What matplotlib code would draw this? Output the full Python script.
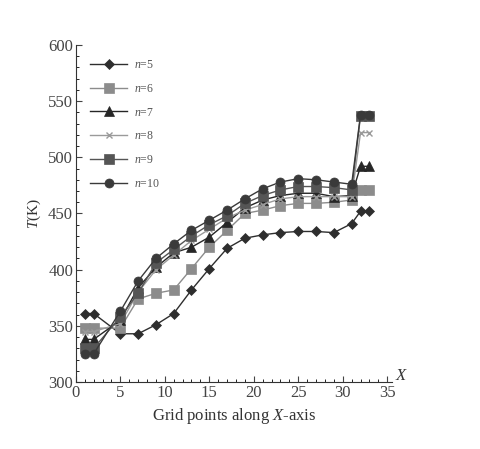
import matplotlib.pyplot as plt
import numpy as np

### grid points and temperature for every n

x = [1, 2, 5, 7, 9, 11, 13, 15, 17, 19, 21, 23, 25, 27, 29, 31, 32, 33]

t5 = [361, 361, 343, 343, 351, 361, 382, 401, 419, 428, 431, 433, 434, 434, 433, 441, 452, 452]
t6 = [348, 348, 348, 374, 379, 382, 401, 420, 435, 450, 453, 457, 459, 459, 460, 462, 471, 471]
t7 = [338, 338, 355, 384, 402, 415, 420, 429, 442, 455, 462, 466, 468, 468, 465, 466, 492, 492]
t8 = [345, 345, 352, 380, 400, 413, 426, 436, 446, 453, 458, 463, 465, 465, 465, 465, 522, 522]
t9 = [330, 330, 358, 379, 406, 418, 430, 440, 448, 459, 466, 471, 474, 474, 473, 471, 537, 537]
t10 = [325, 325, 363, 390, 410, 423, 435, 444, 453, 463, 472, 478, 481, 480, 478, 476, 538, 538]

labels = ['5', '6', '7', '8', '9', '10']
series = [t5, t6, t7, t8, t9, t10]
markers = ['D', 's', '^', 'x', 's', 'o']
colors = ['#2e2e2e', '#8c8c8c', '#262626', '#9a9a9a', '#555555', '#3a3a3a']
sizes = [5, 6.5, 6.5, 5, 6.5, 6.5]

plt.rcParams['font.family'] = ['Liberation Serif', 'DejaVu Serif']
plt.rcParams['mathtext.fontset'] = 'custom'
plt.rcParams['mathtext.rm'] = 'Liberation Serif'
plt.rcParams['mathtext.it'] = 'Liberation Serif:italic'

fig = plt.figure(figsize=(4.8, 4.49), dpi=100)
ax = fig.add_axes([0.158, 0.149, 0.658, 0.751])

for t, lab, m, c, s in zip(series, labels, markers, colors, sizes):
    ax.plot(x, t, color=c, marker=m, markersize=s, linewidth=1.0,
            markeredgewidth=1.0 if m == 'x' else 0.5, markeredgecolor=c,
            label='$n$=' + lab)

ax.set_xlim(0, 35.5)
ax.set_ylim(300, 600)
ax.set_xticks(np.arange(0, 36, 5))
ax.set_yticks(np.arange(300, 601, 50))
ax.set_xticks(np.arange(0, 36, 1), minor=True)
ax.set_yticks(np.arange(300, 601, 10), minor=True)
ax.tick_params(direction='in', labelsize=12, colors='#444444', length=4, pad=2)
ax.tick_params(which='minor', direction='in', length=2)
for side in ['top', 'right']:
    ax.spines[side].set_visible(False)
for side in ['left', 'bottom']:
    ax.spines[side].set_color('#333333')

ax.set_ylabel('$T$(K)', fontsize=11, color='#333333', labelpad=4)
ax.set_xlabel('Grid points along $X$-axis', fontsize=12, color='#333333', labelpad=4)
ax.text(1.01, 0.005, '$X$', transform=ax.transAxes, fontsize=12, color='#333333')

ax.legend(loc='upper left', bbox_to_anchor=(0.01, 0.99), frameon=False,
          fontsize=8.5, handlelength=3.2, labelspacing=1.0, handletextpad=0.6,
          labelcolor='#555555')

fig.savefig('out.png', dpi=100)
